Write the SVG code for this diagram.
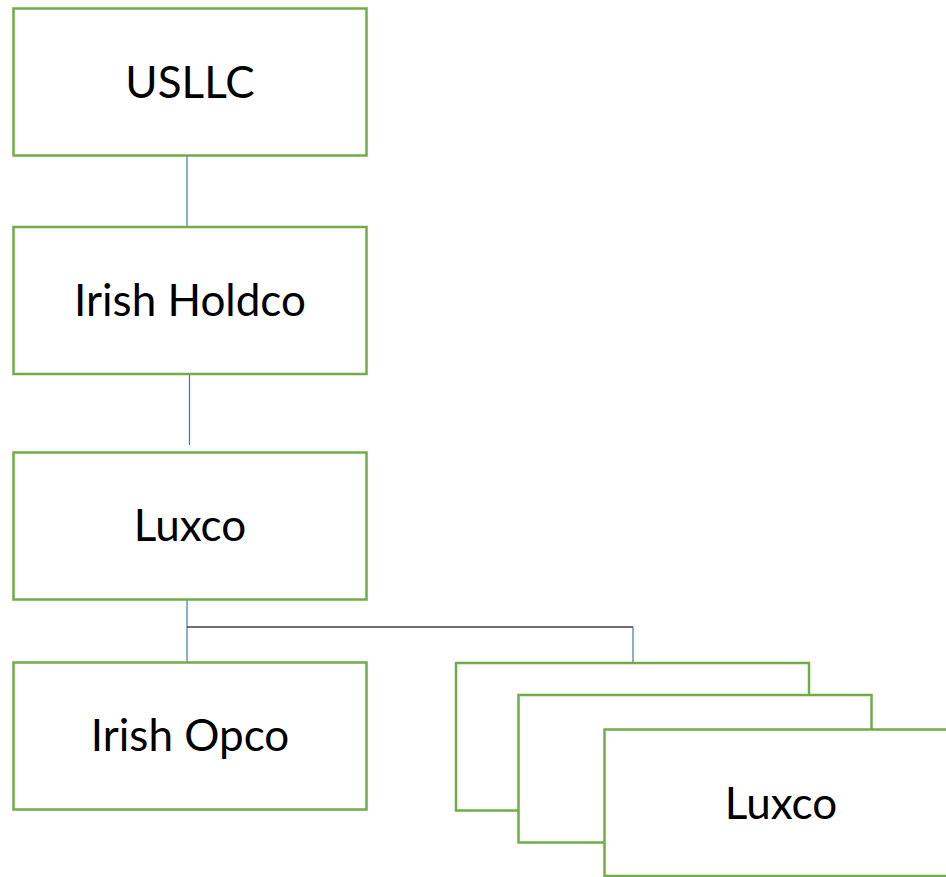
<svg xmlns="http://www.w3.org/2000/svg" width="946" height="877" viewBox="0 0 946 877">
  <style>
    .box { fill: #ffffff; stroke: #70ad47; stroke-width: 2.5; }
    .lbl { font-family: Lato, "Liberation Sans", sans-serif; font-size: 44px; fill: #000000; text-anchor: middle; }
    .link { stroke: #4472c4; stroke-width: 1.2; fill: none; }
    .bus { stroke: #404040; stroke-width: 1.5; fill: none; }
  </style>
  <rect width="946" height="877" fill="#ffffff"/>

  <g id="connectors">
    <line class="link" x1="187" y1="156" x2="187" y2="228"/>
    <line class="link" x1="189.5" y1="375" x2="189.5" y2="445"/>
    <line class="link" x1="187" y1="592" x2="187" y2="662"/>
    <line class="bus" x1="187" y1="627" x2="633" y2="627"/>
    <line class="link" x1="633" y1="627" x2="633" y2="662"/>
  </g>

  <g id="usllc">
    <rect class="box" x="13.5" y="8.5" width="353" height="147"/>
    <text class="lbl" x="190" y="97.5">USLLC</text>
  </g>

  <g id="irish-holdco">
    <rect class="box" x="13.5" y="227" width="353" height="147"/>
    <text class="lbl" x="190" y="316">Irish Holdco</text>
  </g>

  <g id="luxco">
    <rect class="box" x="13.5" y="452.5" width="353" height="147"/>
    <text class="lbl" x="190" y="541">Luxco</text>
  </g>

  <g id="irish-opco">
    <rect class="box" x="13.5" y="662.5" width="353" height="147"/>
    <text class="lbl" x="190" y="751">Irish Opco</text>
  </g>

  <g id="luxco-stack">
    <rect class="box" x="456" y="663" width="353" height="147.5"/>
    <rect class="box" x="518.5" y="695" width="353" height="147.5"/>
    <rect class="box" x="604.5" y="729.5" width="353" height="146.5"/>
    <text class="lbl" x="781" y="819">Luxco</text>
  </g>
</svg>
